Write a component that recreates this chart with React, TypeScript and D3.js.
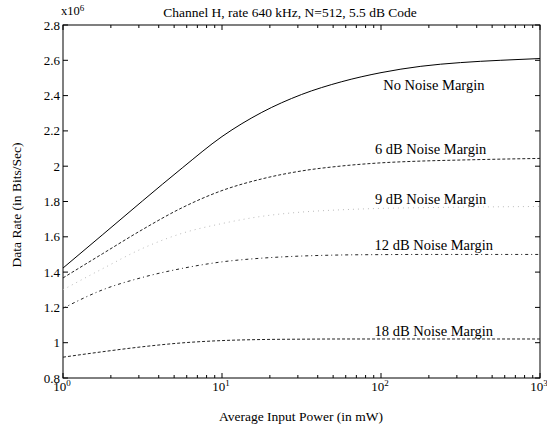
import * as d3 from "d3";

const W = 547;
const H = 432;
const margin = { top: 25, right: 7, bottom: 54, left: 63 };

// input power (mW), read at quarter-decade steps
const power = [1, 1.78, 3.16, 5.62, 10, 17.8, 31.6, 56.2, 100, 178, 316, 562, 1000];

// data rate, x10^6 bits/sec
const noMargin = [1.423, 1.613, 1.803, 1.99, 2.168, 2.305, 2.406, 2.478, 2.53, 2.566, 2.587, 2.6, 2.61];
const margin6 = [1.367, 1.505, 1.641, 1.765, 1.862, 1.928, 1.973, 2.001, 2.019, 2.029, 2.035, 2.04, 2.044];
const margin9 = [1.3, 1.42, 1.534, 1.62, 1.675, 1.716, 1.74, 1.753, 1.761, 1.765, 1.768, 1.77, 1.772];
const margin12 = [1.195, 1.3, 1.37, 1.421, 1.458, 1.479, 1.491, 1.497, 1.499, 1.5, 1.5, 1.5, 1.5];
const margin18 = [0.918, 0.949, 0.977, 0.999, 1.012, 1.018, 1.02, 1.021, 1.021, 1.021, 1.021, 1.021, 1.021];

const seriesNames = ["No Noise Margin", "6 dB Noise Margin", "9 dB Noise Margin", "12 dB Noise Margin", "18 dB Noise Margin"];
const yTicks = [0.8, 1, 1.2, 1.4, 1.6, 1.8, 2, 2.2, 2.4, 2.6, 2.8];
const xDecades = [0, 1, 2, 3];

const font = "Liberation Serif, Times New Roman, serif";

function App() {
  const iw = W - margin.left - margin.right;
  const ih = H - margin.top - margin.bottom;
  const x = d3.scaleLog().domain([1, 1000]).range([0, iw]);
  const y = d3.scaleLinear().domain([0.8, 2.8]).range([ih, 0]);

  const styles = [
    { stroke: "#000", dash: "none" },
    { stroke: "#222", dash: "3,2" },
    { stroke: "#bbb", dash: "1,4" },
    { stroke: "#222", dash: "3,3,1,3" },
    { stroke: "#222", dash: "3,2" },
  ];
  const all = [noMargin, margin6, margin9, margin12, margin18];
  const line = d3
    .line<number>()
    .x((_, i) => x(power[i]))
    .y((d) => y(d))
    .curve(d3.curveMonotoneX);

  // label anchors: [power, data rate]
  const labelAt = [
    [215, 2.432],
    [205, 2.069],
    [205, 1.786],
    [215, 1.525],
    [215, 1.038],
  ];

  const minor: number[] = [];
  for (let e = 0; e < 3; e++) for (let k = 2; k <= 9; k++) minor.push(k * Math.pow(10, e));

  return (
    <svg width={W} height={H} style={{ position: "absolute", left: 0, top: 0, fontFamily: font }}>
      <rect width={W} height={H} fill="#fff" />
      <g transform={`translate(${margin.left},${margin.top})`}>
        <rect width={iw} height={ih} fill="none" stroke="#000" strokeWidth={1} />
        {yTicks.map((t) => (
          <g key={t}>
            <line x1={0} x2={5} y1={y(t)} y2={y(t)} stroke="#000" />
            <line x1={iw} x2={iw - 5} y1={y(t)} y2={y(t)} stroke="#000" />
            <text x={-3} y={y(t)} dy="0.35em" textAnchor="end" fontSize={13}>
              {t === 1 || t === 2 ? String(t) : t.toFixed(1)}
            </text>
          </g>
        ))}
        {minor.map((m) => (
          <g key={m}>
            <line x1={x(m)} x2={x(m)} y1={ih} y2={ih - 3} stroke="#000" />
            <line x1={x(m)} x2={x(m)} y1={0} y2={3} stroke="#000" />
          </g>
        ))}
        {xDecades.map((e) => (
          <g key={e}>
            <line x1={x(Math.pow(10, e))} x2={x(Math.pow(10, e))} y1={ih} y2={ih - 5} stroke="#000" />
            <line x1={x(Math.pow(10, e))} x2={x(Math.pow(10, e))} y1={0} y2={5} stroke="#000" />
            <text x={x(Math.pow(10, e)) - 1} y={ih + 13} textAnchor="middle" fontSize={13}>
              10<tspan fontSize={9} dy={-5}>{e}</tspan>
            </text>
          </g>
        ))}
        {all.map((s, i) => (
          <path
            key={i}
            d={line(s) || ""}
            fill="none"
            stroke={styles[i].stroke}
            strokeWidth={1}
            strokeDasharray={styles[i].dash}
          />
        ))}
        {seriesNames.map((n, i) => (
          <text key={n} x={x(labelAt[i][0])} y={y(labelAt[i][1])} textAnchor="middle" fontSize={14.5}>
            {n}
          </text>
        ))}
      </g>
      <text x={margin.left - 2} y={15} fontSize={12.5}>
        x10<tspan fontSize={9} dy={-4}>6</tspan>
      </text>
      <text x={290} y={17} textAnchor="middle" fontSize={13.5}>
        Channel H, rate 640 kHz, N=512, 5.5 dB Code
      </text>
      <text x={301} y={421} textAnchor="middle" fontSize={13.5}>
        Average Input Power (in mW)
      </text>
      <text transform={`translate(21,205) rotate(-90)`} textAnchor="middle" fontSize={13.5}>
        Data Rate (in Bits/Sec)
      </text>
    </svg>
  );
}

export default App;
